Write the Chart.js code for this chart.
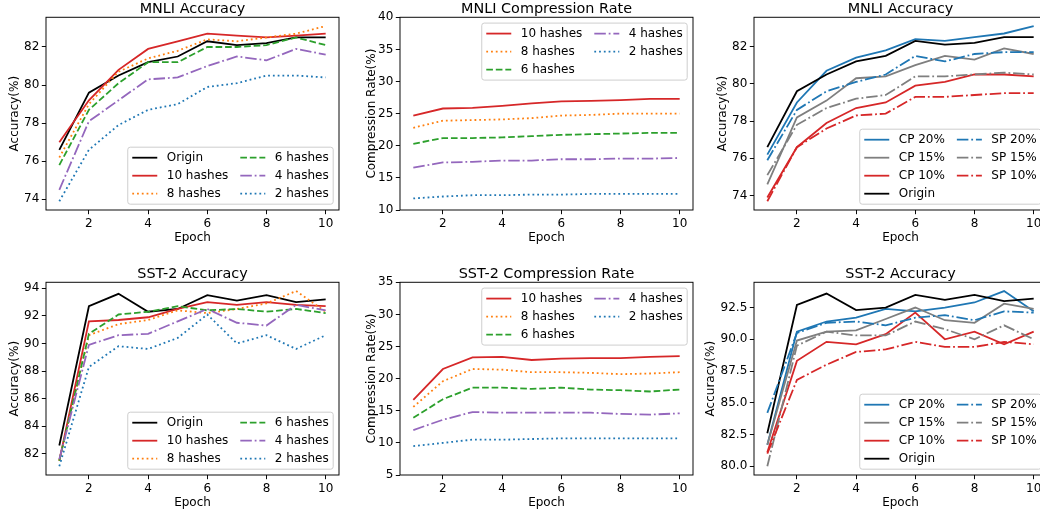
<!DOCTYPE html>
<html><head><meta charset="utf-8">
<script src="https://cdn.jsdelivr.net/npm/chart.js@4.4.1/dist/chart.umd.min.js"></script>
<style>
html,body{margin:0;padding:0;background:#fff;width:1040px;height:510px;overflow:hidden;position:relative;}
canvas{position:absolute;}
</style></head><body>
<canvas id="c1"></canvas><canvas id="c2"></canvas><canvas id="c3"></canvas>
<canvas id="c4"></canvas><canvas id="c5"></canvas><canvas id="c6"></canvas>
<script>
// ---------------- data ----------------
const epochs = [1,2,3,4,5,6,7,8,9,10];
const epochTicks = [2,4,6,8,10];

// MNLI accuracy (hashes)
const mnliOrigin = [76.6, 79.6, 80.5, 81.2, 81.5, 82.3, 82.1, 82.2, 82.5, 82.5];
const mnliH10    = [77.0, 79.2, 80.8, 81.9, 82.3, 82.7, 82.6, 82.5, 82.6, 82.7];
const mnliH8     = [76.2, 79.0, 80.7, 81.4, 81.8, 82.4, 82.3, 82.5, 82.7, 83.1];
const mnliH6     = [75.8, 78.7, 80.1, 81.2, 81.2, 82.0, 82.0, 82.1, 82.5, 82.1];
const mnliH4     = [74.5, 78.1, 79.2, 80.3, 80.4, 81.0, 81.5, 81.3, 81.9, 81.6];
const mnliH2     = [73.9, 76.6, 77.9, 78.7, 79.0, 79.9, 80.1, 80.5, 80.5, 80.4];
const mnliAccTicks = [74, 76, 78, 80, 82];

// MNLI compression rate
const mnliCrH10 = [24.7, 25.8, 25.9, 26.2, 26.6, 26.9, 27.0, 27.1, 27.3, 27.3];
const mnliCrH8  = [22.8, 23.9, 24.0, 24.1, 24.3, 24.7, 24.8, 25.0, 25.0, 25.0];
const mnliCrH6  = [20.3, 21.2, 21.2, 21.3, 21.5, 21.7, 21.8, 21.9, 22.0, 22.0];
const mnliCrH4  = [16.6, 17.4, 17.5, 17.7, 17.7, 17.9, 17.9, 18.0, 18.0, 18.1];
const mnliCrH2  = [11.8, 12.1, 12.3, 12.3, 12.4, 12.4, 12.5, 12.5, 12.5, 12.5];
const mnliCrTicks = [10, 15, 20, 25, 30, 35, 40];

// MNLI accuracy (CP / SP)
const mnliCp20 = [76.2, 79.0, 80.7, 81.4, 81.8, 82.4, 82.3, 82.5, 82.7, 83.1];
const mnliCp15 = [74.6, 78.2, 79.1, 80.3, 80.4, 81.0, 81.5, 81.3, 81.9, 81.6];
const mnliCp10 = [73.9, 76.6, 77.9, 78.7, 79.0, 79.9, 80.1, 80.5, 80.5, 80.4];
const mnliSp20 = [75.9, 78.6, 79.6, 80.1, 80.5, 81.5, 81.2, 81.6, 81.7, 81.7];
const mnliSp15 = [75.1, 77.8, 78.7, 79.2, 79.4, 80.4, 80.4, 80.5, 80.6, 80.5];
const mnliSp10 = [73.7, 76.6, 77.6, 78.3, 78.4, 79.3, 79.3, 79.4, 79.5, 79.5];

// SST-2 accuracy (hashes)
const sstOrigin = [82.6, 92.7, 93.6, 92.3, 92.5, 93.5, 93.1, 93.5, 93.0, 93.2];
const sstH10    = [81.5, 91.6, 91.7, 91.9, 92.5, 93.0, 92.8, 93.0, 92.8, 92.7];
const sstH8     = [81.5, 90.6, 91.4, 91.7, 92.4, 92.2, 92.5, 92.9, 93.8, 92.3];
const sstH6     = [81.5, 90.7, 92.1, 92.3, 92.7, 92.4, 92.5, 92.3, 92.5, 92.2];
const sstH4     = [81.6, 89.9, 90.6, 90.7, 91.6, 92.5, 91.5, 91.3, 92.8, 92.4];
const sstH2     = [81.1, 88.3, 89.8, 89.6, 90.4, 92.1, 90.0, 90.6, 89.6, 90.6];
const sstAccTicks = [82, 84, 86, 88, 90, 92, 94];

// SST-2 compression rate
const sstCrH10 = [16.7, 21.5, 23.3, 23.4, 22.9, 23.1, 23.2, 23.2, 23.4, 23.5];
const sstCrH8  = [15.6, 19.6, 21.5, 21.4, 21.0, 21.0, 20.9, 20.7, 20.8, 21.0];
const sstCrH6  = [13.9, 16.8, 18.6, 18.6, 18.4, 18.6, 18.3, 18.2, 18.0, 18.3];
const sstCrH4  = [12.0, 13.6, 14.8, 14.7, 14.7, 14.7, 14.7, 14.5, 14.4, 14.6];
const sstCrH2  = [9.5, 10.0, 10.5, 10.5, 10.6, 10.7, 10.7, 10.7, 10.7, 10.7];
const sstCrTicks = [5, 10, 15, 20, 25, 30, 35];

// SST-2 accuracy (CP / SP)
const sstCp20 = [81.7, 90.6, 91.4, 91.7, 92.4, 92.2, 92.5, 92.9, 93.8, 92.2];
const sstCp15 = [81.7, 89.9, 90.6, 90.7, 91.6, 92.5, 91.5, 91.3, 92.8, 92.4];
const sstCp10 = [81.1, 88.3, 89.8, 89.6, 90.4, 92.1, 90.0, 90.6, 89.6, 90.6];
const sstSp20 = [84.2, 90.5, 91.3, 91.4, 91.1, 91.7, 91.9, 91.5, 92.2, 92.1];
const sstSp15 = [80.0, 89.5, 90.6, 90.3, 90.3, 91.4, 90.8, 90.0, 91.1, 90.0];
const sstSp10 = [81.0, 86.8, 88.0, 89.0, 89.2, 89.8, 89.4, 89.4, 89.8, 89.6];
const sstAcc2Ticks = [80.0, 82.5, 85.0, 87.5, 90.0, 92.5];

// ---------------- styling ----------------
const FONT = '"DejaVu Sans", sans-serif';
const COL = {black:'#000000', red:'#d62728', orange:'#ff7f0e', green:'#2ca02c', purple:'#9467bd', blue:'#1f77b4', gray:'#7f7f7f'};
const DASH = {solid:[], dashed:[6.66,2.88], dotted:[1.8,2.97], dashdot:[11.52,2.88,1.8,2.88]};
const LW = 1.8;

function series(label, values, color, dash){
  return {label, data: values.map((v,i)=>({x:epochs[i], y:v})), borderColor:color, backgroundColor:color,
    borderDash:dash, borderWidth:LW, pointRadius:0, pointHoverRadius:0, tension:0, fill:false, borderCapStyle:'butt'};
}
function autoRange(sets){
  const all = sets.flatMap(s=>s.data.map(p=>p.y));
  const mn = Math.min(...all), mx = Math.max(...all), m = (mx-mn)*0.05;
  return [mn-m, mx+m];
}

const mplFrame = {
  id:'mplFrame',
  afterDatasetsDraw(chart, args, opts){
    const {ctx, chartArea:a} = chart;
    ctx.save();
    ctx.setLineDash([]);
    ctx.lineWidth = 0.96; ctx.strokeStyle = '#000';
    ctx.strokeRect(a.left, a.top, a.right-a.left, a.bottom-a.top);
    // title centred over the plot area
    ctx.font = '14.4px ' + FONT;
    ctx.fillStyle = '#000'; ctx.textAlign = 'center'; ctx.textBaseline = 'alphabetic';
    ctx.fillText(opts.title, (a.left + a.right)/2, a.top - 4.5);
    // legend
    const ds = chart.data.datasets;
    const n = ds.length, rows = Math.ceil(n/2);
    ctx.font = '12px ' + FONT;
    const idx = ds.map((_,i)=>i);
    const col1 = idx.slice(0, rows), col2 = idx.slice(rows);
    const tw = ids => Math.max(...ids.map(i=>ctx.measureText(ds[i].label).width));
    const w1 = tw(col1), w2 = col2.length ? tw(col2) : 0;
    const bp=4.5, hl=25, hp=9.5, cs=12, rh=12, ls=6, pad=opts.pad;
    const W = bp*2 + hl+hp+w1 + cs + hl+hp+w2;
    const H = bp*2 + rows*rh + (rows-1)*ls;
    const x0 = a.right - pad - W;
    const y0 = opts.loc === 'upper right' ? a.top + pad : a.bottom - pad - H;
    ctx.beginPath(); ctx.roundRect(x0, y0, W, H, 2.5);
    ctx.fillStyle = 'rgba(255,255,255,0.8)'; ctx.fill();
    ctx.strokeStyle = '#cccccc'; ctx.lineWidth = 0.96; ctx.stroke();
    [col1, col2].forEach((col, ci)=>{
      const cx = x0 + bp + (ci ? hl+hp+w1+cs : 0);
      col.forEach((i, ri)=>{
        const cy = y0 + bp + rh/2 + ri*(rh+ls);
        const d = ds[i];
        ctx.beginPath(); ctx.setLineDash(d.borderDash||[]); ctx.lineWidth = d.borderWidth; ctx.strokeStyle = d.borderColor;
        ctx.moveTo(cx, cy); ctx.lineTo(cx+hl, cy); ctx.stroke();
        ctx.setLineDash([]);
        ctx.fillStyle = '#000'; ctx.textBaseline = 'middle'; ctx.textAlign = 'left';
        ctx.fillText(d.label, cx+hl+hp, cy);
      });
    });
    ctx.restore();
  }
};

function makeChart(id, rect, title, yTitle, yTitlePad, yTicks, yRange, yFmt, datasets, loc){
  const YW = 60, TH = 18.28, XB = 36, R = 10;
  const cv = document.getElementById(id);
  const width = YW + rect.w + R, height = Math.round(TH + rect.h + XB);
  cv.width = width; cv.height = height;
  cv.style.width = width + 'px'; cv.style.height = height + 'px';
  cv.style.left = (rect.l - YW) + 'px'; cv.style.top = (rect.t - TH) + 'px';
  const n = datasets.length;
  datasets.forEach((d,i)=>{ d.order = n - i; });
  const tickFont = {family:FONT, size:12};
  return new Chart(cv.getContext('2d'), {
    type:'line',
    data:{datasets},
    plugins:[mplFrame],
    options:{
      responsive:false, animation:false, devicePixelRatio:1,
      layout:{padding:{left:0, right:R, top:TH, bottom:0}},
      plugins:{
        legend:{display:false}, tooltip:{enabled:false}, title:{display:false},
        mplFrame:{loc, pad:5.8, title}
      },
      scales:{
        x:{type:'linear', min:0.55, max:10.45,
          afterBuildTicks:s=>{ s.ticks = epochTicks.map(v=>({value:v})); },
          afterFit:s=>{ s.height = XB; },
          grid:{drawOnChartArea:false, drawTicks:true, tickLength:4.2, color:'#000', lineWidth:0.96},
          border:{display:false},
          ticks:{color:'#000', font:tickFont, padding:2.5, maxRotation:0, autoSkip:false, callback:v=>String(v)},
          title:{display:true, text:'Epoch', color:'#000', font:{family:FONT, size:12, lineHeight:1.2}, padding:{top:0, bottom:0.8}}
        },
        y:{type:'linear', min:yRange[0], max:yRange[1],
          afterBuildTicks:s=>{ s.ticks = yTicks.map(v=>({value:v})); },
          afterFit:s=>{ s.width = YW; },
          grid:{drawOnChartArea:false, drawTicks:true, tickLength:4.2, color:'#000', lineWidth:0.96},
          border:{display:false},
          ticks:{color:'#000', font:tickFont, padding:2.5, autoSkip:false, callback:yFmt},
          title:{display:true, text:yTitle, color:'#000', font:{family:FONT, size:12, lineHeight:1.2}, padding:{top:yTitlePad, bottom:0}}
        }
      }
    }
  });
}

const topT = 17.5, botT = 281.8, PW = 293, PH = 192.72;
const intFmt = v => String(v);
const decFmt = v => v.toFixed(1);

// Panel 1
const d1 = [
  series('Origin', mnliOrigin, COL.black, DASH.solid),
  series('10 hashes', mnliH10, COL.red, DASH.solid),
  series('8 hashes', mnliH8, COL.orange, DASH.dotted),
  series('6 hashes', mnliH6, COL.green, DASH.dashed),
  series('4 hashes', mnliH4, COL.purple, DASH.dashdot),
  series('2 hashes', mnliH2, COL.blue, DASH.dotted)
];
makeChart('c1', {l:46, t:topT, w:PW, h:PH}, 'MNLI Accuracy', 'Accuracy(%)', 21.8, mnliAccTicks, autoRange(d1), intFmt, d1, 'lower right');

// Panel 2
const d2 = [
  series('10 hashes', mnliCrH10, COL.red, DASH.solid),
  series('8 hashes', mnliCrH8, COL.orange, DASH.dotted),
  series('6 hashes', mnliCrH6, COL.green, DASH.dashed),
  series('4 hashes', mnliCrH4, COL.purple, DASH.dashdot),
  series('2 hashes', mnliCrH2, COL.blue, DASH.dotted)
];
makeChart('c2', {l:400, t:topT, w:PW, h:PH}, 'MNLI Compression Rate', 'Compression Rate(%)', 24.5, mnliCrTicks, [mnliCrTicks[0], mnliCrTicks[mnliCrTicks.length-1]], intFmt, d2, 'upper right');

// Panel 3
const d3 = [
  series('CP 20%', mnliCp20, COL.blue, DASH.solid),
  series('CP 15%', mnliCp15, COL.gray, DASH.solid),
  series('CP 10%', mnliCp10, COL.red, DASH.solid),
  series('Origin', mnliOrigin, COL.black, DASH.solid),
  series('SP 20%', mnliSp20, COL.blue, DASH.dashdot),
  series('SP 15%', mnliSp15, COL.gray, DASH.dashdot),
  series('SP 10%', mnliSp10, COL.red, DASH.dashdot)
];
makeChart('c3', {l:754, t:topT, w:PW, h:PH}, 'MNLI Accuracy', 'Accuracy(%)', 21.8, mnliAccTicks, autoRange(d3), intFmt, d3, 'lower right');

// Panel 4
const d4 = [
  series('Origin', sstOrigin, COL.black, DASH.solid),
  series('10 hashes', sstH10, COL.red, DASH.solid),
  series('8 hashes', sstH8, COL.orange, DASH.dotted),
  series('6 hashes', sstH6, COL.green, DASH.dashed),
  series('4 hashes', sstH4, COL.purple, DASH.dashdot),
  series('2 hashes', sstH2, COL.blue, DASH.dotted)
];
makeChart('c4', {l:46, t:botT, w:PW, h:PH}, 'SST-2 Accuracy', 'Accuracy(%)', 21.8, sstAccTicks, autoRange(d4), intFmt, d4, 'lower right');

// Panel 5
const d5 = [
  series('10 hashes', sstCrH10, COL.red, DASH.solid),
  series('8 hashes', sstCrH8, COL.orange, DASH.dotted),
  series('6 hashes', sstCrH6, COL.green, DASH.dashed),
  series('4 hashes', sstCrH4, COL.purple, DASH.dashdot),
  series('2 hashes', sstCrH2, COL.blue, DASH.dotted)
];
makeChart('c5', {l:400, t:botT, w:PW, h:PH}, 'SST-2 Compression Rate', 'Compression Rate(%)', 24.5, sstCrTicks, [sstCrTicks[0], sstCrTicks[sstCrTicks.length-1]], intFmt, d5, 'upper right');

// Panel 6
const d6 = [
  series('CP 20%', sstCp20, COL.blue, DASH.solid),
  series('CP 15%', sstCp15, COL.gray, DASH.solid),
  series('CP 10%', sstCp10, COL.red, DASH.solid),
  series('Origin', sstOrigin, COL.black, DASH.solid),
  series('SP 20%', sstSp20, COL.blue, DASH.dashdot),
  series('SP 15%', sstSp15, COL.gray, DASH.dashdot),
  series('SP 10%', sstSp10, COL.red, DASH.dashdot)
];
makeChart('c6', {l:754, t:botT, w:PW, h:PH}, 'SST-2 Accuracy', 'Accuracy(%)', 9.8, sstAcc2Ticks, autoRange(d6), decFmt, d6, 'lower right');
</script>
</body></html>
